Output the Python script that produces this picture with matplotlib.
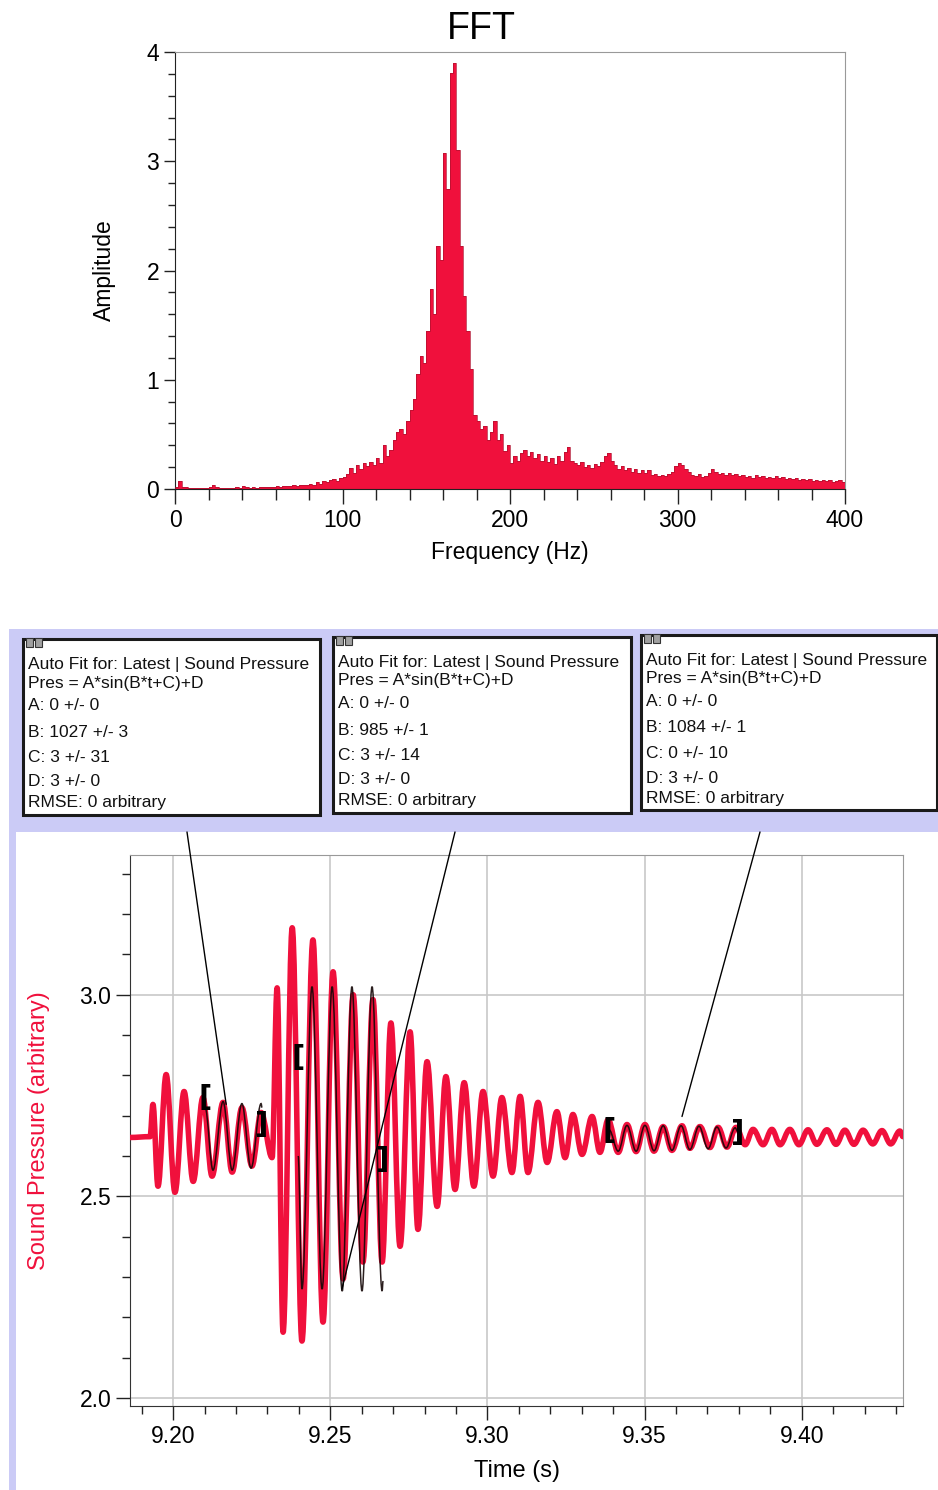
import numpy as np
import matplotlib
matplotlib.use('Agg')
import matplotlib.pyplot as plt
from matplotlib.patches import Rectangle, ConnectionPatch, PathPatch
from matplotlib.path import Path
from matplotlib.ticker import MultipleLocator, FormatStrFormatter

plt.rcParams['font.family'] = ['Liberation Sans', 'DejaVu Sans']

# ---------------- data ----------------
fft_step = 2  # Hz per bin
fft_amp = [
    0.02, 0.07, 0.02, 0.015, 0.01, 0.01, 0.012, 0.01, 0.01, 0.012,
    0.015, 0.04, 0.015, 0.01, 0.012, 0.01, 0.01, 0.012, 0.015, 0.01,
    0.03, 0.015, 0.012, 0.015, 0.012, 0.015, 0.02, 0.015, 0.02, 0.02,
    0.025, 0.02, 0.03, 0.025, 0.03, 0.035, 0.03, 0.04, 0.035, 0.04,
    0.05, 0.04, 0.06, 0.05, 0.07, 0.06, 0.08, 0.09, 0.07, 0.10,
    0.11, 0.14, 0.19, 0.15, 0.22, 0.18, 0.24, 0.21, 0.25, 0.22,
    0.28, 0.24, 0.40, 0.30, 0.36, 0.45, 0.52, 0.55, 0.50, 0.62,
    0.72, 0.82, 1.05, 1.22, 1.15, 1.45, 1.83, 1.60, 2.22, 2.10,
    3.08, 2.75, 3.81, 3.90, 3.10, 2.22, 1.77, 1.45, 1.10, 0.68,
    0.62, 0.55, 0.58, 0.45, 0.52, 0.62, 0.45, 0.50, 0.35, 0.40,
    0.24, 0.30, 0.26, 0.33, 0.36, 0.30, 0.34, 0.28, 0.32, 0.26,
    0.30, 0.25, 0.28, 0.23, 0.30, 0.26, 0.34, 0.38, 0.26, 0.24,
    0.22, 0.25, 0.20, 0.22, 0.19, 0.23, 0.21, 0.25, 0.30, 0.33,
    0.26, 0.22, 0.18, 0.21, 0.17, 0.19, 0.16, 0.18, 0.15, 0.17,
    0.15, 0.17, 0.13, 0.14, 0.12, 0.13, 0.12, 0.14, 0.16, 0.21,
    0.24, 0.22, 0.18, 0.16, 0.13, 0.12, 0.14, 0.11, 0.12, 0.15,
    0.18, 0.16, 0.14, 0.15, 0.13, 0.15, 0.13, 0.14, 0.12, 0.13,
    0.11, 0.12, 0.10, 0.13, 0.11, 0.12, 0.10, 0.11, 0.10, 0.12,
    0.10, 0.11, 0.09, 0.10, 0.09, 0.10, 0.08, 0.09, 0.08, 0.09,
    0.07, 0.08, 0.07, 0.08, 0.07, 0.08, 0.06, 0.07, 0.08, 0.06,
]
fft_freq = np.arange(len(fft_amp)) * fft_step
fft_xticks = [0, 100, 200, 300, 400]
fft_yticks = [0, 1, 2, 3, 4]

# extrema (peaks / troughs) of the recorded sound-pressure trace
wave_t = [9.1863, 9.1927, 9.1936, 9.1952, 9.1978, 9.2006, 9.2035, 9.2064, 9.2095, 9.2124,
          9.2159, 9.2188, 9.2219, 9.2251, 9.2280, 9.2315, 9.2331, 9.2350, 9.2379, 9.2410,
          9.2445, 9.2477, 9.2509, 9.2541, 9.2573, 9.2604, 9.2636, 9.2665, 9.2693, 9.2722,
          9.2754, 9.2779, 9.2808, 9.2840, 9.2868, 9.2897, 9.2926, 9.2957, 9.2986, 9.3018,
          9.3046, 9.3078, 9.3104, 9.3129, 9.3161, 9.3190, 9.3221, 9.3247, 9.3272, 9.3301,
          9.3333, 9.3358, 9.3384, 9.3416, 9.3444, 9.3473, 9.3501, 9.3530, 9.3559, 9.3587,
          9.3619, 9.3644, 9.3676, 9.3708, 9.3734, 9.3762, 9.3791, 9.3820, 9.3845, 9.3877,
          9.3905, 9.3931, 9.3962, 9.3991, 9.4020, 9.4048, 9.4080, 9.4109, 9.4137, 9.4166,
          9.4195, 9.4226, 9.4255, 9.4283, 9.4312, 9.4322]
wave_v = [2.646, 2.648, 2.728, 2.525, 2.802, 2.510, 2.760, 2.537, 2.745, 2.550,
          2.733, 2.560, 2.720, 2.575, 2.708, 2.596, 3.017, 2.163, 3.166, 2.141,
          3.136, 2.188, 3.057, 2.295, 3.000, 2.337, 2.988, 2.337, 2.930, 2.376,
          2.908, 2.418, 2.834, 2.475, 2.797, 2.517, 2.782, 2.525, 2.760, 2.550,
          2.745, 2.559, 2.748, 2.559, 2.733, 2.584, 2.710, 2.596, 2.703, 2.604,
          2.698, 2.609, 2.690, 2.609, 2.678, 2.611, 2.678, 2.612, 2.673, 2.614,
          2.675, 2.619, 2.673, 2.621, 2.671, 2.622, 2.671, 2.628, 2.666, 2.628,
          2.666, 2.628, 2.666, 2.628, 2.665, 2.629, 2.665, 2.629, 2.664, 2.629,
          2.664, 2.630, 2.663, 2.630, 2.662, 2.648]

fit1_t = [9.2102, 9.2127, 9.2159, 9.2188, 9.2219, 9.2248, 9.2280, 9.2283]
fit1_v = [2.720, 2.565, 2.735, 2.565, 2.730, 2.570, 2.730, 2.720]
fit2_t = [9.2398, 9.2410, 9.2442, 9.2474, 9.2506, 9.2538, 9.2569, 9.2601, 9.2633, 9.2665, 9.2668]
fit2_v = [2.600, 2.270, 3.020, 2.270, 3.020, 2.265, 3.020, 2.265, 3.020, 2.265, 2.290]
fit3_t = [9.3387, 9.3416, 9.3444, 9.3473, 9.3501, 9.3530, 9.3559, 9.3587, 9.3616, 9.3644,
          9.3673, 9.3702, 9.3730, 9.3759, 9.3788, 9.3797]
fit3_v = [2.665, 2.612, 2.676, 2.612, 2.676, 2.613, 2.675, 2.614, 2.675, 2.616,
          2.674, 2.618, 2.672, 2.620, 2.670, 2.660]
fits_t = [fit1_t, fit2_t, fit3_t]
fits_v = [fit1_v, fit2_v, fit3_v]
bracket_left_v = [2.745, 2.844, 2.663]
bracket_right_v = [2.678, 2.589, 2.656]
leader_end_t = [9.2169, 9.2537, 9.3619]
leader_end_v = [2.728, 2.270, 2.698]

wave_xticks = [9.20, 9.25, 9.30, 9.35, 9.40]
wave_yticks = [2.0, 2.5, 3.0]

fit_B = ['1027 +/- 3', '985 +/- 1', '1084 +/- 1']
fit_C = ['3 +/- 31', '3 +/- 14', '0 +/- 10']

# ---------------- layout helpers ----------------
W, H = 938, 1490
def fx(x):
    return x / W
def fy(y):
    return 1 - y / H

RED = '#f0103c'


def smooth_path(ts, vs, k=0.36):
    """Path through the extrema, drawn with flat (horizontal) tangents at each one."""
    verts = [(ts[0], vs[0])]
    codes = [Path.MOVETO]
    for i in range(1, len(ts)):
        dt = ts[i] - ts[i - 1]
        verts += [(ts[i - 1] + k * dt, vs[i - 1]), (ts[i] - k * dt, vs[i]), (ts[i], vs[i])]
        codes += [Path.CURVE4] * 3
    return Path(verts, codes)


fig = plt.figure(figsize=(9.38, 14.9), dpi=100)
fig.patch.set_facecolor('white')

# lavender panel + white plot panel
fig.add_artist(Rectangle((fx(9), 0), fx(938) - fx(9), fy(629), transform=fig.transFigure,
                         facecolor='#cbcbf6', edgecolor='none', zorder=-2))
fig.add_artist(Rectangle((fx(16), 0), fx(938) - fx(16), fy(832), transform=fig.transFigure,
                         facecolor='white', edgecolor='none', zorder=-1))

# ---------------- FFT ----------------
ax1 = fig.add_axes([fx(175), fy(489), fx(845) - fx(175), fy(52) - fy(489)])
ax1.bar(fft_freq, fft_amp, width=fft_step, align='edge', color=RED, edgecolor='none', zorder=2)
ax1.stairs(fft_amp, np.append(fft_freq, fft_freq[-1] + fft_step), color='#b0102e', lw=0.5, zorder=3)
ax1.set_xlim(0, 400)
ax1.set_ylim(0, 4)
ax1.set_xticks(fft_xticks)
ax1.set_yticks(fft_yticks)
ax1.xaxis.set_minor_locator(MultipleLocator(20))
ax1.yaxis.set_minor_locator(MultipleLocator(0.2))
ax1.tick_params(which='major', direction='out', length=8, width=1, labelsize=16.5, color='#222')
ax1.tick_params(which='minor', direction='out', length=5, width=1, color='#222')
ax1.tick_params(axis='x', which='major', length=11)
ax1.tick_params(axis='x', which='minor', length=8)
for s in ['top', 'right']:
    ax1.spines[s].set_color('#999999')
for s in ['left', 'bottom']:
    ax1.spines[s].set_color('#222222')
ax1.set_xlabel('Frequency (Hz)', fontsize=16.5)
ax1.set_ylabel('Amplitude', fontsize=16.5)
ax1.xaxis.set_label_coords(0.5, -0.119)
ax1.yaxis.set_label_coords(-0.088, 0.5)
fig.text(fx(481), fy(39), 'FFT', ha='center', va='baseline', fontsize=27)

# ---------------- fit boxes ----------------
boxes = [(23, 639, 320, 815), (333, 637, 631, 813), (641, 635, 937, 810)]
for i, (x0, y0, x1, y1) in enumerate(boxes):
    fig.add_artist(Rectangle((fx(x0), fy(y1)), fx(x1) - fx(x0), fy(y0) - fy(y1),
                             transform=fig.transFigure, facecolor='white',
                             edgecolor='#1a1a1a', lw=2.2, zorder=1))
    for dx in (3, 12):
        fig.add_artist(Rectangle((fx(x0 + dx), fy(y0 + 8)), fx(7), fy(0) - fy(9),
                                 transform=fig.transFigure, facecolor='#a0a0a0',
                                 edgecolor='#333333', lw=0.8, zorder=2))
    lines = ['Auto Fit for: Latest | Sound Pressure',
             'Pres = A*sin(B*t+C)+D',
             'A: 0 +/- 0',
             'B: ' + fit_B[i],
             'C: ' + fit_C[i],
             'D: 3 +/- 0',
             'RMSE: 0 arbitrary']
    offs = [25, 44, 67, 93, 118, 143, 164]
    for s, o in zip(lines, offs):
        fig.text(fx(x0 + 5), fy(y0 + o), s, ha='left', va='center', fontsize=12.5,
                 color='#111111', zorder=3)

# ---------------- waveform ----------------
ax2 = fig.add_axes([fx(130), fy(1406), fx(903) - fx(130), fy(855) - fy(1406)])
ax2.set_facecolor('white')
ax2.add_patch(PathPatch(smooth_path(wave_t, wave_v), facecolor='none', edgecolor=RED,
                        lw=4.0, capstyle='round', joinstyle='round', zorder=3))
for ft, fv in zip(fits_t, fits_v):
    ax2.add_patch(PathPatch(smooth_path(ft, fv), facecolor='none', edgecolor='#140606',
                            lw=1.1, alpha=0.9, zorder=4))
for ft, vl, vr in zip(fits_t, bracket_left_v, bracket_right_v):
    ax2.text(ft[0], vl, '[', fontsize=21, ha='center', va='center', family='DejaVu Sans',
             fontweight='bold', zorder=5)
    ax2.text(ft[-1], vr, ']', fontsize=21, ha='center', va='center', family='DejaVu Sans',
             fontweight='bold', zorder=5)
ax2.set_xlim(9.1863, 9.4322)
ax2.set_ylim(1.980, 3.3465)
ax2.set_xticks(wave_xticks)
ax2.set_yticks(wave_yticks)
ax2.xaxis.set_major_formatter(FormatStrFormatter('%.2f'))
ax2.yaxis.set_major_formatter(FormatStrFormatter('%.1f'))
ax2.xaxis.set_minor_locator(MultipleLocator(0.01))
ax2.yaxis.set_minor_locator(MultipleLocator(0.1))
ax2.grid(True, which='major', color='#c8c8c8', lw=1.2)
ax2.set_axisbelow(True)
ax2.tick_params(which='major', direction='out', length=10, width=1, labelsize=16.5, color='#222')
ax2.tick_params(which='minor', direction='out', length=6, width=1, color='#222')
for s in ['top', 'right']:
    ax2.spines[s].set_color('#999999')
for s in ['left', 'bottom']:
    ax2.spines[s].set_color('#333333')
ax2.set_xlabel('Time (s)', fontsize=17)
ax2.set_ylabel('Sound Pressure (arbitrary)', fontsize=17, color=RED)
ax2.xaxis.set_label_coords(0.5, -0.098)
ax2.yaxis.set_label_coords(-0.1035, 0.5)

# leader lines from fit boxes to the curve
starts = [187, 455, 760]
for sx, et, ev in zip(starts, leader_end_t, leader_end_v):
    con = ConnectionPatch(xyA=(fx(sx), fy(832)), coordsA='figure fraction',
                          xyB=(et, ev), coordsB='data', axesB=ax2,
                          color='black', lw=1.0, zorder=6)
    fig.add_artist(con)

fig.savefig('out.png', dpi=100)
